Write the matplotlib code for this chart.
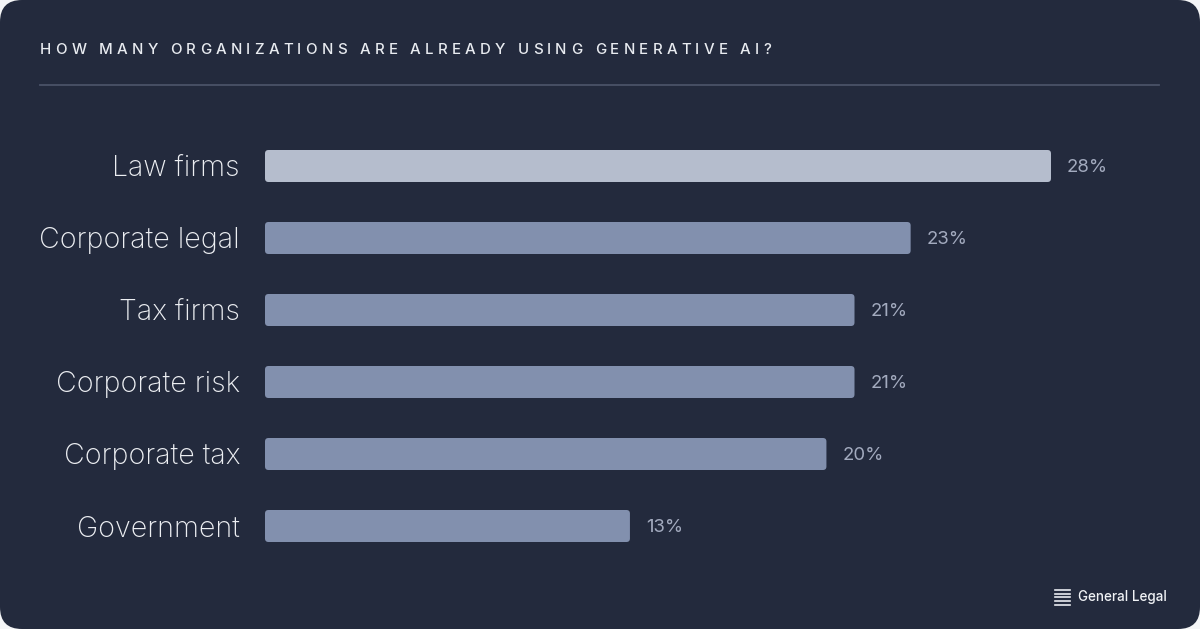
import matplotlib
matplotlib.use("Agg")
import matplotlib.pyplot as plt
from matplotlib.patches import FancyBboxPatch
from matplotlib.lines import Line2D

categories = ["Law firms", "Corporate legal", "Tax firms", "Corporate risk", "Corporate tax", "Government"]
values = [28, 23, 21, 21, 20, 13]
value_labels = ["28%", "23%", "21%", "21%", "20%", "13%"]
title = "HOW MANY ORGANIZATIONS ARE ALREADY USING GENERATIVE AI?"
brand = "General Legal"

BG = "#232a3d"
BAR_TOP = "#b5bdcd"
BAR = "#8290ae"
LABEL = "#eceef2"
VAL = "#a3abbf"
FONT = ["Inter", "Liberation Sans", "DejaVu Sans"]

W, H = 1200, 629
fig = plt.figure(figsize=(12, 6.29), dpi=100)
fig.patch.set_facecolor("#f4f5f7")
renderer = fig.canvas.get_renderer()


def text_w(text, size, weight="normal"):
    t = fig.text(0, 0, text, fontsize=size, family=FONT, fontweight=weight)
    w = t.get_window_extent(renderer).width
    t.remove()
    return w


def fit_size(text, target_px, weight="normal", base=12):
    return base * target_px / text_w(text, base, weight)


card = FancyBboxPatch((0, 0), 1, 1, boxstyle="round,pad=0,rounding_size=%f" % (22 / W),
                      mutation_aspect=W / H, transform=fig.transFigure,
                      facecolor=BG, edgecolor="none", zorder=-10)
fig.patches.append(card)

x0, x1 = 265, 1051
ytop, ybot = 130, 562
ax = fig.add_axes([x0 / W, 1 - ybot / H, (x1 - x0) / W, (ybot - ytop) / H])
ax.set_zorder(5)
ax.set_facecolor("none")
ax.set_xlim(0, 28)
n = len(categories)
ax.set_ylim(n - 0.5, -0.5)
ax.axis("off")

lab_size = fit_size("Corporate legal", 200, "light")
val_size = fit_size("28%", 41, "normal")

px_per_x = (x1 - x0) / 28
px_per_y = (ybot - ytop) / n
bar_h = 32 / px_per_y
r = 3.5 / px_per_x
for i, (c, v, lab) in enumerate(zip(categories, values, value_labels)):
    color = BAR_TOP if i == 0 else BAR
    p = FancyBboxPatch((0, i - bar_h / 2), v, bar_h,
                       boxstyle="round,pad=0,rounding_size=%f" % r,
                       mutation_aspect=px_per_x / px_per_y,
                       facecolor=color, edgecolor="none", clip_on=False)
    ax.add_patch(p)
    ax.annotate(lab, (v, i), xytext=(16, -1), textcoords="offset pixels",
                ha="left", va="center", color=VAL, fontsize=val_size, family=FONT,
                annotation_clip=False)
    ax.annotate(c, (0, i), xytext=(-25, -3), textcoords="offset pixels",
                ha="right", va="center", color=LABEL, fontsize=lab_size, family=FONT,
                fontweight="light", annotation_clip=False)

# title with letter spacing, spanning px 40..771
tsize = 10.8
tweight = "medium"
widths = [4.0 if ch == " " else text_w(ch, tsize, tweight) for ch in title]
spacing = (731 - sum(widths)) / (len(title) - 1)
x = 40
ty = 1 - 50 / H
for ch, wpx in zip(title, widths):
    fig.text(x / W, ty, ch, ha="left", va="center", color="#e8ebf0",
             fontsize=tsize, family=FONT, fontweight=tweight)
    x += wpx + spacing

fig.add_artist(Line2D([40 / W, 1159 / W], [1 - 85 / H, 1 - 85 / H], color="#4a5268", lw=1.3))

# brand
for k in range(5):
    yy = 590 + k * 3.7
    fig.add_artist(Line2D([1055 / W, 1070 / W], [1 - yy / H, 1 - yy / H], color="#e8ebf0", lw=1.2))
b_size = fit_size(brand, 89, "medium")
fig.text(1078 / W, 1 - 597 / H, brand, ha="left", va="center", color="#f0f2f5",
         fontsize=b_size, family=FONT, fontweight="medium")

fig.savefig("out.png", dpi=100, facecolor=fig.get_facecolor())
